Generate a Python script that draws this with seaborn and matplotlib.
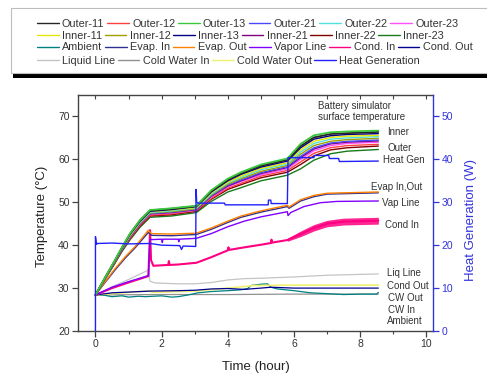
import seaborn as sns
import matplotlib.pyplot as plt
from matplotlib.lines import Line2D
from matplotlib.patches import Rectangle
from matplotlib.ticker import MultipleLocator

sns.set_style("ticks")
plt.rcParams['font.family'] = ['Liberation Sans', 'DejaVu Sans']

# battery simulator surface thermocouples (hour, degC)
t_batt = [0, 0.3, 0.55, 0.8, 1.05, 1.35, 1.65, 2.3, 3.05, 3.5, 4.0, 4.4, 5.0, 5.8, 6.2, 6.6, 7.1, 7.6, 8.55]
outer_13 = [28.4, 32.6, 36.0, 39.5, 42.8, 45.9, 48.2, 48.6, 49.2, 52.8, 55.5, 57.0, 58.8, 60.2, 63.6, 65.6, 66.3, 66.5, 66.7]
outer_11 = [28.4, 32.6, 35.9, 39.4, 42.7, 45.8, 48.1, 48.5, 49.1, 52.6, 55.3, 56.7, 58.5, 59.9, 63.1, 65.1, 65.9, 66.1, 66.4]
inner_13 = [28.4, 32.5, 35.9, 39.4, 42.6, 45.6, 47.9, 48.3, 49.0, 52.4, 55.0, 56.5, 58.2, 59.6, 62.7, 64.7, 65.5, 65.8, 66.0]
inner_11 = [28.4, 32.5, 35.8, 39.3, 42.4, 45.5, 47.8, 48.2, 48.8, 52.2, 54.7, 56.1, 57.9, 59.2, 62.2, 64.2, 65.1, 65.4, 65.6]
outer_22 = [28.4, 32.5, 35.8, 39.2, 42.3, 45.3, 47.6, 48.0, 48.7, 51.9, 54.5, 55.8, 57.6, 58.9, 61.7, 63.7, 64.7, 65.0, 65.3]
inner_12 = [28.4, 32.4, 35.7, 39.1, 42.2, 45.2, 47.5, 47.8, 48.5, 51.7, 54.2, 55.5, 57.2, 58.6, 61.2, 63.2, 64.2, 64.6, 64.9]
outer_21 = [28.4, 32.4, 35.7, 39.0, 42.1, 45.1, 47.4, 47.7, 48.4, 51.5, 54.0, 55.2, 56.9, 58.3, 60.7, 62.7, 63.8, 64.2, 64.5]
inner_21 = [28.4, 32.4, 35.6, 38.9, 42.0, 45.0, 47.3, 47.6, 48.3, 51.4, 53.8, 55.0, 56.7, 58.1, 60.4, 62.4, 63.6, 64.0, 64.3]
outer_23 = [28.4, 32.4, 35.6, 38.9, 41.9, 44.9, 47.2, 47.5, 48.2, 51.2, 53.6, 54.8, 56.4, 57.8, 60.0, 62.0, 63.2, 63.7, 64.0]
outer_12 = [28.4, 32.3, 35.5, 38.8, 41.7, 44.7, 47.0, 47.3, 48.1, 50.9, 53.3, 54.4, 56.1, 57.4, 59.4, 61.4, 62.7, 63.2, 63.5]
inner_22 = [28.4, 32.3, 35.4, 38.7, 41.6, 44.5, 46.8, 47.1, 47.9, 50.7, 53.0, 54.1, 55.7, 57.0, 58.8, 60.8, 62.2, 62.7, 63.1]
inner_23 = [28.4, 32.2, 35.3, 38.5, 41.3, 44.2, 46.5, 46.8, 47.6, 50.2, 52.4, 53.4, 55.0, 56.3, 57.8, 59.8, 61.3, 61.9, 62.3]

# evaporator in / out
t_evap = [0, 0.3, 0.6, 0.9, 1.2, 1.6, 1.65, 1.7, 2.3, 3.05, 3.5, 4.0, 4.4, 5.0, 5.8, 5.85, 6.2, 6.6, 7.0, 8.55]
evap_out = [28.4, 31.6, 34.6, 37.3, 39.7, 43.5, 43.0, 42.7, 42.6, 42.8, 44.0, 45.6, 46.8, 48.0, 49.3, 48.9, 50.6, 51.6, 52.1, 52.4]
evap_in = [28.4, 31.4, 34.3, 37.0, 39.4, 43.0, 42.6, 42.3, 42.2, 42.5, 43.7, 45.3, 46.5, 47.7, 49.0, 48.6, 50.3, 51.3, 51.9, 52.2]

# vapor line
t_vap = [0, 0.5, 1.0, 1.6, 1.65, 1.7, 2.0, 2.02, 2.04, 2.5, 2.52, 2.54, 3.05, 3.5, 4.0, 4.5, 5.0, 5.8, 5.82, 5.9, 6.3, 6.8, 7.3, 8.55]
vapor = [28.4, 30.2, 31.5, 32.9, 41.4, 41.3, 41.4, 40.6, 41.4, 41.4, 40.8, 41.4, 41.6, 42.7, 44.3, 45.6, 46.6, 47.8, 46.9, 47.6, 49.0, 49.9, 50.2, 50.3]

# condenser in (line + noise band)
t_cin = [0, 0.5, 1.0, 1.6, 1.65, 1.68, 1.75, 2.2, 2.22, 2.24, 2.5, 3.05, 3.5, 4.0, 4.02, 4.04, 4.5, 5.0, 5.3, 5.32, 5.34, 5.8, 6.2, 6.6, 7.0, 7.5, 8.0, 8.55]
cond_in = [28.4, 30.0, 31.3, 32.8, 43.5, 36.5, 35.2, 35.4, 36.3, 35.4, 35.5, 35.9, 37.2, 38.8, 39.5, 38.9, 39.5, 40.1, 40.5, 41.3, 40.6, 41.2, 42.6, 44.0, 45.0, 45.5, 45.6, 45.7]
t_band = [5.8, 6.2, 6.6, 7.0, 7.5, 8.0, 8.55]
cond_in_lo = [40.9, 42.0, 43.3, 44.3, 44.7, 44.8, 44.9]
cond_in_hi = [41.6, 43.3, 44.8, 45.8, 46.3, 46.4, 46.5]

# liquid line
t_liq = [0, 0.5, 1.0, 1.6, 1.65, 1.8, 2.5, 3.0, 3.5, 4.0, 4.5, 5.0, 6.0, 7.0, 8.55]
liquid = [28.4, 30.3, 32.0, 34.2, 31.6, 31.2, 31.0, 31.0, 31.3, 31.9, 32.2, 32.3, 32.6, 33.0, 33.3]

# condenser out / cold water / ambient
t_cout = [0, 0.5, 1.65, 2.5, 3.0, 3.5, 4.0, 4.5, 5.0, 5.3, 6.0, 7.0, 8.55]
cond_out = [28.4, 28.9, 29.3, 29.4, 29.5, 29.8, 29.9, 29.7, 30.0, 30.2, 30.0, 30.0, 30.0]
t_cwout = [0, 1.65, 1.7, 3.0, 4.0, 4.8, 6.0, 8.55]
cw_out = [28.4, 29.4, 29.0, 29.3, 30.0, 30.6, 30.7, 30.7]
t_cwin = [0, 2.0, 4.0, 6.0, 8.55]
cw_in = [28.4, 28.5, 28.5, 28.6, 28.6]
t_amb = [0, 0.3, 0.5, 0.8, 1.0, 1.3, 1.5, 2.0, 2.3, 2.5, 2.8, 3.1, 3.5, 4.0, 4.4, 4.6, 4.7, 5.0, 5.2, 5.3, 5.5, 6.0, 6.5, 7.0, 7.5, 8.0, 8.5, 8.55]
ambient = [28.4, 28.3, 28.0, 28.2, 27.9, 28.1, 28.0, 28.2, 27.9, 28.0, 28.4, 28.9, 29.2, 29.4, 29.6, 29.9, 30.6, 30.9, 31.0, 30.2, 29.8, 29.4, 28.9, 28.7, 28.5, 28.6, 28.6, 29.0]

# heat generation (W, right axis)
t_heat = [0, 0, 0.03, 0.06, 0.5, 1.0, 1.65, 2.0, 2.55, 2.6, 2.65, 3.03, 3.04, 3.06, 3.1, 3.9, 3.92, 5.22, 5.23, 5.3, 5.31, 5.8, 5.82, 6.6, 6.62, 7.05, 7.07, 7.35, 7.37, 8.55]
heat_gen = [0, 22.0, 20.2, 20.4, 20.5, 20.3, 20.4, 20.0, 19.9, 19.0, 19.8, 19.7, 33.0, 30.0, 29.8, 29.8, 29.4, 29.4, 30.5, 30.5, 29.7, 29.7, 40.4, 40.4, 40.9, 40.9, 40.2, 40.2, 39.5, 39.6]

colors = {
    "Outer-11": "#262626", "Outer-12": "#ff4040", "Outer-13": "#3cc83c",
    "Outer-21": "#4848ff", "Outer-22": "#50e0e0", "Outer-23": "#ff50ff",
    "Inner-11": "#e6e600", "Inner-12": "#a0a000", "Inner-13": "#000080",
    "Inner-21": "#800080", "Inner-22": "#800000", "Inner-23": "#1a7a1a",
    "Ambient": "#008080", "Evap. In": "#303090", "Evap. Out": "#ff8000",
    "Vapor Line": "#8000ff", "Cond. In": "#ff0080", "Cond. Out": "#000090",
    "Liquid Line": "#c4c4c4", "Cold Water In": "#909090",
    "Cold Water Out": "#f0f070", "Heat Generation": "#2020ff",
}
legend_rows = [
    ["Outer-11", "Outer-12", "Outer-13", "Outer-21", "Outer-22", "Outer-23"],
    ["Inner-11", "Inner-12", "Inner-13", "Inner-21", "Inner-22", "Inner-23"],
    ["Ambient", "Evap. In", "Evap. Out", "Vapor Line", "Cond. In", "Cond. Out"],
    ["Liquid Line", "Cold Water In", "Cold Water Out", "Heat Generation"],
]

fig = plt.figure(figsize=(4.87, 3.75), dpi=100)
ax = fig.add_axes([0.160, 0.1173, 0.729, 0.6294])


def draw(a, x, y, name, lw=0.9):
    sns.lineplot(x=x, y=y, ax=a, color=colors[name], lw=lw,
                 estimator=None, sort=False, legend=False)


# low temperature lines first
draw(ax, t_cwin, cw_in, "Cold Water In")
draw(ax, t_amb, ambient, "Ambient")
draw(ax, t_cwout, cw_out, "Cold Water Out", lw=1.2)
draw(ax, t_cout, cond_out, "Cond. Out")
draw(ax, t_liq, liquid, "Liquid Line")

ax.fill_between(t_band, cond_in_lo, cond_in_hi, color=colors["Cond. In"], lw=0, alpha=0.85)
draw(ax, t_cin, cond_in, "Cond. In", lw=1.5)
draw(ax, t_vap, vapor, "Vapor Line", lw=1.0)
draw(ax, t_evap, evap_in, "Evap. In", lw=1.0)
draw(ax, t_evap, evap_out, "Evap. Out", lw=1.0)

batt = [("Inner-23", inner_23), ("Inner-22", inner_22), ("Outer-12", outer_12),
        ("Outer-23", outer_23), ("Inner-21", inner_21), ("Outer-21", outer_21),
        ("Inner-12", inner_12), ("Outer-22", outer_22), ("Inner-11", inner_11),
        ("Inner-13", inner_13), ("Outer-11", outer_11), ("Outer-13", outer_13)]
for name, vals in batt:
    draw(ax, t_batt, vals, name, lw=1.3 if name in ("Outer-11", "Outer-13") else 1.0)

ax.set_xlim(-0.53, 10.2)
ax.set_ylim(20, 75)
ax.xaxis.set_major_locator(MultipleLocator(2))
ax.xaxis.set_minor_locator(MultipleLocator(1))
ax.yaxis.set_major_locator(MultipleLocator(10))

dark = "#333333"
for s in ["left", "bottom", "top"]:
    ax.spines[s].set_color("#444444")
    ax.spines[s].set_linewidth(1.0)
ax.spines["right"].set_visible(False)
ax.tick_params(axis="both", which="major", direction="out", length=4, width=0.9,
               colors="#444444", labelcolor=dark, labelsize=7.5, pad=2)
ax.tick_params(axis="x", which="minor", direction="out", length=2.5, width=0.8, colors="#444444")

top = ax.secondary_xaxis("top")
top.set_xticks(range(0, 11))
top.tick_params(direction="in", length=3, width=0.8, colors="#444444", labeltop=False)
top.spines["top"].set_visible(False)

ax.set_xlabel("Time (hour)", fontsize=9.5, color="#222222")
ax.set_ylabel("Temperature (\u00b0C)", fontsize=9.5, color="#222222")
ax.xaxis.set_label_coords(0.5, -0.125)
ax.yaxis.set_label_coords(-0.085, 0.485)

# heat generation on the right axis
ax2 = ax.twinx()
draw(ax2, t_heat, heat_gen, "Heat Generation", lw=1.0)
ax2.set_ylim(0, 55)
ax2.yaxis.set_major_locator(MultipleLocator(10))
blue = "#3333dd"
for s in ["left", "bottom", "top"]:
    ax2.spines[s].set_visible(False)
ax2.spines["right"].set_color(blue)
ax2.spines["right"].set_linewidth(1.0)
ax2.tick_params(axis="y", direction="out", length=4, width=0.9, colors=blue,
                labelcolor=blue, labelsize=7.5, pad=2)
ax2.set_ylabel("Heat Generation (W)", fontsize=9.5, color=blue)
ax2.yaxis.set_label_coords(1.09, 0.47)

# annotations
tc = "#333333"
ax.text(6.72, 73.6, "Battery simulator\nsurface temperature", fontsize=7, color=tc,
        ha="left", va="top", linespacing=1.15)
labels = [(8.82, 66.3, "Inner"), (8.82, 62.6, "Outer"), (8.70, 59.8, "Heat Gen"),
          (8.33, 53.6, "Evap In,Out"), (8.67, 49.9, "Vap Line"), (8.74, 44.8, "Cond In"),
          (8.80, 33.6, "Liq Line"), (8.80, 30.5, "Cond Out"), (8.84, 27.6, "CW Out"),
          (8.84, 24.9, "CW In"), (8.80, 22.3, "Ambient")]
for x, y, s in labels:
    ax.text(x, y, s, fontsize=7, color=tc, ha="left", va="center")

# legend box with dark shadow bar, one legend per row
fig.add_artist(Rectangle((13 / 487, 1 - 77.5 / 375), 1.0, 3.6 / 375,
                         transform=fig.transFigure, color="black", lw=0))
fig.add_artist(Rectangle((11 / 487, 1 - 72.7 / 375), 1.0, 64.4 / 375,
                         transform=fig.transFigure, facecolor="white",
                         edgecolor="#bdbdbd", lw=0.8))
row_y = [24, 35.7, 47.3, 60.5]
for names, ry in zip(legend_rows, row_y):
    handles = [Line2D([0], [0], color=colors[n], lw=1.0) for n in names]
    fig.legend(handles, names, loc="center left", bbox_to_anchor=(37 / 487, 1 - ry / 375),
               ncol=len(names), frameon=False, fontsize=7.8, borderpad=0,
               borderaxespad=0, handlelength=2.0, handletextpad=0.3,
               columnspacing=0.25, labelcolor="#333333")

fig.savefig("out.png", dpi=100)
